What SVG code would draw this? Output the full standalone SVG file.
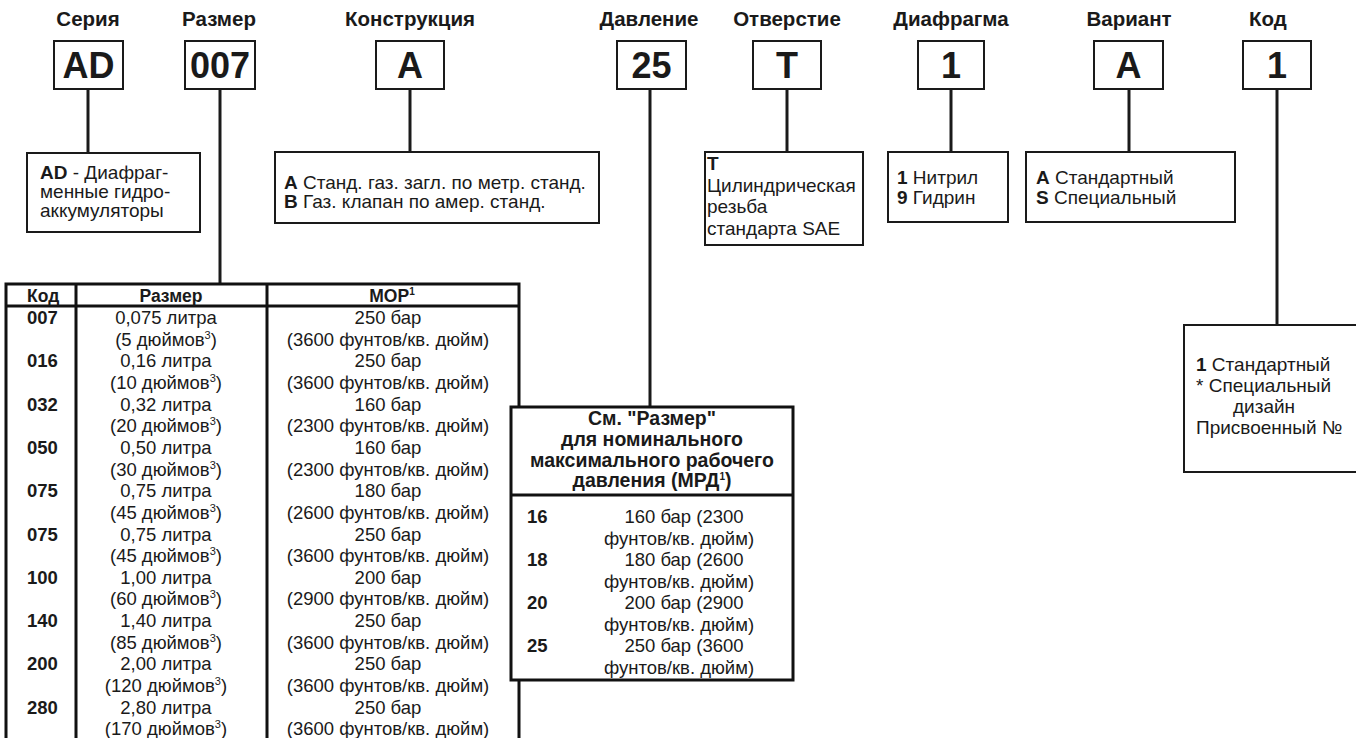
<svg xmlns="http://www.w3.org/2000/svg" width="1356" height="738" viewBox="0 0 1356 738">
<style>
text{font-family:"Liberation Sans",Arial,sans-serif;fill:#1a1a1a}
.lbl{font-size:20.5px;font-weight:bold;text-anchor:middle}
.big{font-size:36px;font-weight:bold;text-anchor:middle}
.box{fill:#fff;stroke:#1a1a1a;stroke-width:2}
.tb{fill:none;stroke:#111;stroke-width:3}
.d{font-size:19px}
.t{font-size:18.5px}
.th{font-size:17.5px;font-weight:bold}
.mh{font-size:19.5px;font-weight:bold;text-anchor:middle}
.c{text-anchor:middle}
.b{font-weight:bold}
.con line{stroke:#1a1a1a;stroke-width:3}
</style>
<rect width="1356" height="738" fill="#fff"/>
<g id="labels">
<text class="lbl" x="88" y="26">Серия</text>
<text class="lbl" x="219" y="26">Размер</text>
<text class="lbl" x="410" y="26">Конструкция</text>
<text class="lbl" x="649" y="26">Давление</text>
<text class="lbl" x="787" y="26">Отверстие</text>
<text class="lbl" x="951" y="26">Диафрагма</text>
<text class="lbl" x="1129" y="26">Вариант</text>
<text class="lbl" x="1268" y="26">Код</text>
</g>
<g class="con" id="connectors">
<line x1="88" y1="89" x2="88" y2="153"/>
<line x1="220" y1="89" x2="220" y2="284"/>
<line x1="410" y1="89" x2="410" y2="152"/>
<line x1="650" y1="89" x2="650" y2="407"/>
<line x1="787" y1="89" x2="787" y2="152"/>
<line x1="951" y1="89" x2="951" y2="152"/>
<line x1="1129" y1="89" x2="1129" y2="152"/>
<line x1="1277" y1="89" x2="1277" y2="325"/>
</g>
<g id="n-series"><rect class="box" x="54" y="41" width="69" height="48"/><text class="big" x="88.5" y="78">AD</text></g>
<g id="n-size"><rect class="box" x="185" y="41" width="70" height="48"/><text class="big" x="220" y="78">007</text></g>
<g id="n-constr"><rect class="box" x="376" y="41" width="68" height="48"/><text class="big" x="410" y="78">A</text></g>
<g id="n-press"><rect class="box" x="617" y="41" width="69" height="48"/><text class="big" x="651.5" y="78">25</text></g>
<g id="n-port"><rect class="box" x="753" y="41" width="68" height="48"/><text class="big" x="787" y="78">T</text></g>
<g id="n-diaph"><rect class="box" x="918" y="41" width="66" height="48"/><text class="big" x="951" y="78">1</text></g>
<g id="n-var"><rect class="box" x="1094" y="41" width="69" height="48"/><text class="big" x="1128.5" y="78">A</text></g>
<g id="n-code"><rect class="box" x="1243" y="41" width="68" height="48"/><text class="big" x="1277" y="78">1</text></g>

<g id="d-series"><rect class="box" x="27" y="153" width="173" height="79"/>
<text class="d" x="40" y="179"><tspan class="b">AD</tspan> - Диафраг-</text>
<text class="d" x="40" y="198">менные гидро-</text>
<text class="d" x="40" y="217">аккумуляторы</text></g>
<g id="d-constr"><rect class="box" x="275" y="152" width="324" height="71"/>
<text class="d" x="284" y="189"><tspan class="b">A</tspan> Станд. газ. загл. по метр. станд.</text>
<text class="d" x="284" y="208"><tspan class="b">B</tspan> Газ. клапан по амер. станд.</text></g>
<g id="d-port"><rect class="box" x="705" y="152" width="158" height="93"/>
<text class="d b" x="707" y="170">T</text>
<text class="d" x="707" y="192">Цилиндрическая</text>
<text class="d" x="707" y="213">резьба</text>
<text class="d" x="707" y="235">стандарта SAE</text></g>
<g id="d-diaph"><rect class="box" x="888" y="152" width="120" height="70"/>
<text class="d" x="897" y="184"><tspan class="b">1</tspan> Нитрил</text>
<text class="d" x="897" y="204"><tspan class="b">9</tspan> Гидрин</text></g>
<g id="d-var"><rect class="box" x="1026" y="152" width="209" height="70"/>
<text class="d" x="1036" y="184"><tspan class="b">A</tspan> Стандартный</text>
<text class="d" x="1036" y="204"><tspan class="b">S</tspan> Специальный</text></g>
<g id="d-code"><rect class="box" x="1184" y="325" width="180" height="147"/>
<text class="d" x="1196" y="371"><tspan class="b">1</tspan> Стандартный</text>
<text class="d" x="1196" y="392">* Специальный</text>
<text class="d" x="1233" y="413">дизайн</text>
<text class="d" x="1196" y="434">Присвоенный №</text></g>

<g id="size-table">
<path class="tb" d="M6,745 V284 H519 V745 M6,306 H519 M76,284 V745 M267,284 V745"/>
<text class="th" x="27" y="302">Код</text>
<text class="th c" x="171" y="302">Размер</text>
<text class="th c" x="392" y="302">МОР<tspan dy="-7" font-size="10">1</tspan></text>
<g class="t">
<text class="b" x="27" y="324">007</text><text class="c" x="166" y="324">0,075 литра</text><text class="c" x="166" y="345.6">(5 дюймов<tspan dy="-7" font-size="11">3</tspan><tspan dy="7">)</tspan></text><text class="c" x="388" y="324">250 бар</text><text class="c" x="388" y="345.6">(3600 фунтов/кв. дюйм)</text>
<text class="b" x="27" y="367.3">016</text><text class="c" x="166" y="367.3">0,16 литра</text><text class="c" x="166" y="388.9">(10 дюймов<tspan dy="-7" font-size="11">3</tspan><tspan dy="7">)</tspan></text><text class="c" x="388" y="367.3">250 бар</text><text class="c" x="388" y="388.9">(3600 фунтов/кв. дюйм)</text>
<text class="b" x="27" y="410.6">032</text><text class="c" x="166" y="410.6">0,32 литра</text><text class="c" x="166" y="432.2">(20 дюймов<tspan dy="-7" font-size="11">3</tspan><tspan dy="7">)</tspan></text><text class="c" x="388" y="410.6">160 бар</text><text class="c" x="388" y="432.2">(2300 фунтов/кв. дюйм)</text>
<text class="b" x="27" y="453.9">050</text><text class="c" x="166" y="453.9">0,50 литра</text><text class="c" x="166" y="475.5">(30 дюймов<tspan dy="-7" font-size="11">3</tspan><tspan dy="7">)</tspan></text><text class="c" x="388" y="453.9">160 бар</text><text class="c" x="388" y="475.5">(2300 фунтов/кв. дюйм)</text>
<text class="b" x="27" y="497.2">075</text><text class="c" x="166" y="497.2">0,75 литра</text><text class="c" x="166" y="518.8">(45 дюймов<tspan dy="-7" font-size="11">3</tspan><tspan dy="7">)</tspan></text><text class="c" x="388" y="497.2">180 бар</text><text class="c" x="388" y="518.8">(2600 фунтов/кв. дюйм)</text>
<text class="b" x="27" y="540.5">075</text><text class="c" x="166" y="540.5">0,75 литра</text><text class="c" x="166" y="562.1">(45 дюймов<tspan dy="-7" font-size="11">3</tspan><tspan dy="7">)</tspan></text><text class="c" x="388" y="540.5">250 бар</text><text class="c" x="388" y="562.1">(3600 фунтов/кв. дюйм)</text>
<text class="b" x="27" y="583.8">100</text><text class="c" x="166" y="583.8">1,00 литра</text><text class="c" x="166" y="605.4">(60 дюймов<tspan dy="-7" font-size="11">3</tspan><tspan dy="7">)</tspan></text><text class="c" x="388" y="583.8">200 бар</text><text class="c" x="388" y="605.4">(2900 фунтов/кв. дюйм)</text>
<text class="b" x="27" y="627.1">140</text><text class="c" x="166" y="627.1">1,40 литра</text><text class="c" x="166" y="648.7">(85 дюймов<tspan dy="-7" font-size="11">3</tspan><tspan dy="7">)</tspan></text><text class="c" x="388" y="627.1">250 бар</text><text class="c" x="388" y="648.7">(3600 фунтов/кв. дюйм)</text>
<text class="b" x="27" y="670.4">200</text><text class="c" x="166" y="670.4">2,00 литра</text><text class="c" x="166" y="692">(120 дюймов<tspan dy="-7" font-size="11">3</tspan><tspan dy="7">)</tspan></text><text class="c" x="388" y="670.4">250 бар</text><text class="c" x="388" y="692">(3600 фунтов/кв. дюйм)</text>
<text class="b" x="27" y="713.7">280</text><text class="c" x="166" y="713.7">2,80 литра</text><text class="c" x="166" y="735.3">(170 дюймов<tspan dy="-7" font-size="11">3</tspan><tspan dy="7">)</tspan></text><text class="c" x="388" y="713.7">250 бар</text><text class="c" x="388" y="735.3">(3600 фунтов/кв. дюйм)</text>
</g>
</g>

<g id="press-table">
<rect x="511" y="407" width="282" height="273" fill="#fff" stroke="#111" stroke-width="3"/>
<line x1="511" y1="495" x2="793" y2="495" stroke="#111" stroke-width="3"/>
<text class="mh" x="652" y="425">См. "Размер"</text>
<text class="mh" x="652" y="446">для номинального</text>
<text class="mh" x="652" y="466.5">максимального рабочего</text>
<text class="mh" x="652" y="487">давления (МРД<tspan dy="-7" font-size="10">1</tspan><tspan dy="7">)</tspan></text>
<g class="t">
<text class="b" x="527" y="523">16</text><text class="c" x="684" y="523">160 бар (2300</text><text class="c" x="679" y="544.5">фунтов/кв. дюйм)</text>
<text class="b" x="527" y="566">18</text><text class="c" x="684" y="566">180 бар (2600</text><text class="c" x="679" y="587.5">фунтов/кв. дюйм)</text>
<text class="b" x="527" y="609">20</text><text class="c" x="684" y="609">200 бар (2900</text><text class="c" x="679" y="630.5">фунтов/кв. дюйм)</text>
<text class="b" x="527" y="652">25</text><text class="c" x="684" y="652">250 бар (3600</text><text class="c" x="679" y="673.5">фунтов/кв. дюйм)</text>
</g>
</g>
</svg>
